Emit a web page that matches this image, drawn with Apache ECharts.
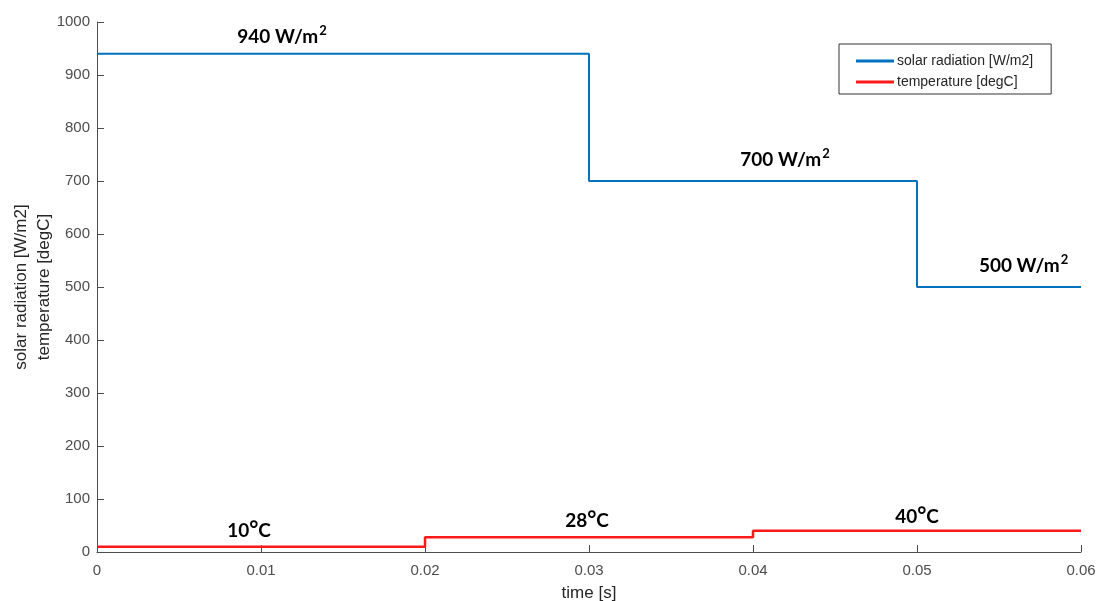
<!DOCTYPE html>
<html>
<head>
<meta charset="utf-8">
<script src="https://cdn.jsdelivr.net/npm/echarts@6/dist/echarts.min.js"></script>
<style>html,body{margin:0;padding:0;background:#fff}#c{width:1102px;height:601px}</style>
</head>
<body>
<div id="c"></div>
<script>
// ---- data ----
const solarTime = [0, 0.03, 0.05, 0.06];
const solarValue = [940, 700, 500, 500];
const tempTime = [0, 0.02, 0.04, 0.06];
const tempValue = [10, 28, 40, 40];
const xTicks = [0, 0.01, 0.02, 0.03, 0.04, 0.05, 0.06];
const yTicks = [0, 100, 200, 300, 400, 500, 600, 700, 800, 900, 1000];
const solarNotes = ['940 W/m', '700 W/m', '500 W/m'];
const solarNoteAt = [[0.01128, 974], [0.04195, 742], [0.0565, 542]];
const tempNotes = ['10', '28', '40'];
const tempNoteAt = [[0.00927, 42], [0.02988, 61], [0.05, 69]];

const font = 'Liberation Sans, Arial, sans-serif';
const noteFont = 'Lato, Open Sans, sans-serif';
const rich = {
  b: {fontFamily: noteFont, fontWeight: 'bold', fontSize: 19, color: '#000', lineHeight: 22, verticalAlign: 'bottom'},
  s: {fontFamily: noteFont, fontWeight: 'bold', fontSize: 13, color: '#000', lineHeight: 13, verticalAlign: 'top', padding: [0, 0, 0, 1]},
  d: {fontFamily: noteFont, fontWeight: 'bold', fontSize: 22, color: '#000', lineHeight: 16, verticalAlign: 'top'}
};

const chart = echarts.init(document.getElementById('c'), null, {renderer: 'canvas'});
chart.setOption({
  animation: false,
  backgroundColor: '#fff',
  grid: {left: 97, right: 21, top: 22, bottom: 49, containLabel: false, outerBoundsMode: 'none'},
  legend: {
    orient: 'vertical', left: 839, top: 44,
    padding: [10, 18, 5, 17], itemGap: 7,
    borderColor: '#333', borderWidth: 1, backgroundColor: '#fff', borderRadius: 0,
    itemWidth: 38, itemHeight: 10,
    textStyle: {fontFamily: font, fontSize: 14, color: '#262626', padding: [0, 0, 0, -2]},
    data: [{name: 'solar radiation [W/m2]', icon: 'path://M0,3.6 L38,3.6 L38,6.4 L0,6.4 Z'},
           {name: 'temperature [degC]', icon: 'path://M0,3.6 L38,3.6 L38,6.4 L0,6.4 Z'}]
  },
  xAxis: {
    type: 'value', min: xTicks[0], max: xTicks[xTicks.length - 1], interval: xTicks[1] - xTicks[0],
    name: 'time [s]', nameLocation: 'middle', nameGap: 33,
    nameTextStyle: {fontFamily: font, fontSize: 17, color: '#262626'},
    axisLine: {lineStyle: {color: '#4d4d4d', width: 1}},
    axisTick: {inside: true, length: 7, lineStyle: {color: '#4d4d4d'}},
    axisLabel: {fontFamily: font, fontSize: 15, color: '#4d4d4d', margin: 11,
      formatter: v => String(+v.toFixed(2))},
    splitLine: {show: false}
  },
  yAxis: {
    type: 'value', min: yTicks[0], max: yTicks[yTicks.length - 1], interval: yTicks[1] - yTicks[0],
    name: 'solar radiation [W/m2]\ntemperature [degC]', nameLocation: 'middle', nameGap: 41,
    nameMoveOverlap: false,
    nameTextStyle: {fontFamily: font, fontSize: 17, color: '#262626', lineHeight: 23},
    axisLine: {show: true, lineStyle: {color: '#4d4d4d', width: 1}},
    axisTick: {show: true, inside: true, length: 7, lineStyle: {color: '#4d4d4d'}},
    axisLabel: {fontFamily: font, fontSize: 15, color: '#4d4d4d', margin: 7,
      formatter: v => String(v)},
    splitLine: {show: false}
  },
  series: [
    {
      name: 'solar radiation [W/m2]', type: 'line', step: 'end', symbol: 'none',
      data: solarTime.map((t, i) => [t, solarValue[i]]),
      itemStyle: {color: '#0072BD'},
      lineStyle: {color: '#0072BD', width: 2},
      markPoint: {
        symbol: 'circle', symbolSize: 0, silent: true,
        label: {show: true, position: 'inside', rich: rich},
        data: solarNotes.map((s, i) => ({coord: solarNoteAt[i], value: 0,
          label: {formatter: '{b|' + s + '}{s|2}'}}))
      }
    },
    {
      name: 'temperature [degC]', type: 'line', step: 'end', symbol: 'none',
      data: tempTime.map((t, i) => [t, tempValue[i]]),
      itemStyle: {color: '#FF1a1a'},
      lineStyle: {color: '#FF1a1a', width: 2.5},
      markPoint: {
        symbol: 'circle', symbolSize: 0, silent: true,
        label: {show: true, position: 'inside', rich: rich},
        data: tempNotes.map((s, i) => ({coord: tempNoteAt[i], value: 0,
          label: {formatter: '{b|' + s + '}{d|°}{b|C}'}}))
      }
    }
  ]
});
</script>
</body>
</html>
